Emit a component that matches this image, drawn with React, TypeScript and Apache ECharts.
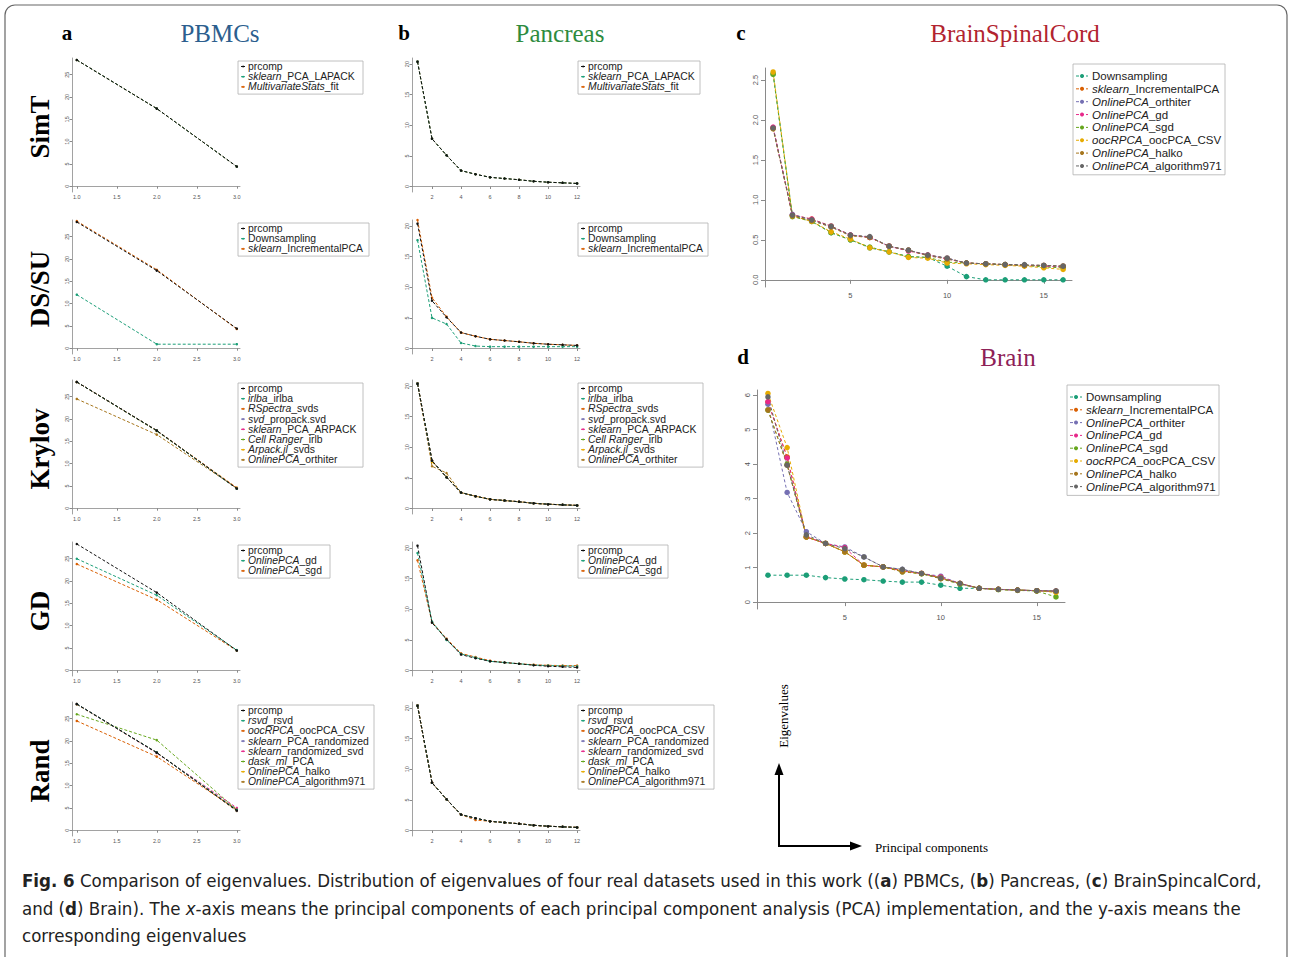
import React, { useEffect, useRef } from 'react';
import * as echarts from 'echarts';

// ---------------- DATA ----------------
const pbmcX = [1, 2, 3];
const pancX = [1, 2, 3, 4, 5, 6, 7, 8, 9, 10, 11, 12];
const brainX = [1, 2, 3, 4, 5, 6, 7, 8, 9, 10, 11, 12, 13, 14, 15, 16];

const pbmcXTicks = [1, 1.5, 2, 2.5, 3];
const pbmcYTicks = [0, 5, 10, 15, 20, 25];
const pancXTicks = [2, 4, 6, 8, 10, 12];
const pancYTicks = [0, 5, 10, 15, 20];
const cXTicks = [5, 10, 15];
const cYTicks = [0, 0.5, 1, 1.5, 2, 2.5];
const dXTicks = [5, 10, 15];
const dYTicks = [0, 1, 2, 3, 4, 5, 6];

const rowNames = ['SimT', 'DS/SU', 'Krylov', 'GD', 'Rand'];

const simtLabels = ['prcomp', '*sklearn*_PCA_LAPACK', '*MultivariateStats*_fit'];
const simtPBMC = [
  [28.3, 17.4, 4.4],
  [28.3, 17.4, 4.4],
  [28.3, 17.4, 4.4],
];
const simtPancreas = [
  [20.4, 7.8, 5.1, 2.6, 2.0, 1.5, 1.3, 1.1, 0.85, 0.7, 0.6, 0.5],
  [20.4, 7.8, 5.1, 2.6, 2.0, 1.5, 1.3, 1.1, 0.85, 0.7, 0.6, 0.5],
  [20.4, 7.8, 5.1, 2.6, 2.0, 1.5, 1.3, 1.1, 0.85, 0.7, 0.6, 0.5],
];

const dssuLabels = ['prcomp', 'Downsampling', '*sklearn*_IncrementalPCA'];
const dssuPBMC = [
  [28.3, 17.4, 4.4],
  [12.0, 0.9, 0.9],
  [28.5, 17.6, 4.3],
];
const dssuPancreas = [
  [20.4, 7.8, 5.1, 2.6, 2.0, 1.5, 1.3, 1.1, 0.85, 0.7, 0.6, 0.5],
  [17.7, 5.0, 4.0, 0.9, 0.4, 0.3, 0.3, 0.3, 0.3, 0.3, 0.3, 0.3],
  [21.0, 8.3, 5.2, 2.6, 2.0, 1.5, 1.3, 1.1, 0.85, 0.7, 0.6, 0.5],
];

const krylovLabels = [
  'prcomp', '*irlba*_irlba', '*RSpectra*_svds', '*svd*_propack.svd',
  '*sklearn*_PCA_ARPACK', '*Cell Ranger*_irlb', '*Arpack.jl*_svds', '*OnlinePCA*_orthiter',
];
const krylovPBMC = [
  [28.3, 17.4, 4.4],
  [28.3, 17.4, 4.4],
  [28.3, 17.4, 4.5],
  [28.3, 17.4, 4.4],
  [28.3, 17.4, 4.5],
  [28.3, 17.3, 4.4],
  [28.3, 17.4, 4.6],
  [24.5, 16.5, 4.5],
];
const krylovPancreas = [
  [20.4, 7.8, 5.1, 2.6, 2.0, 1.5, 1.3, 1.1, 0.85, 0.7, 0.6, 0.5],
  [20.4, 7.8, 5.1, 2.6, 2.0, 1.5, 1.3, 1.1, 0.85, 0.7, 0.6, 0.5],
  [20.4, 7.8, 5.1, 2.6, 2.0, 1.5, 1.3, 1.1, 0.85, 0.7, 0.6, 0.5],
  [20.4, 7.8, 5.1, 2.6, 2.0, 1.5, 1.3, 1.1, 0.85, 0.7, 0.6, 0.5],
  [20.4, 7.8, 5.1, 2.6, 2.0, 1.5, 1.3, 1.1, 0.85, 0.7, 0.6, 0.5],
  [20.4, 7.8, 5.1, 2.6, 2.0, 1.5, 1.3, 1.1, 0.85, 0.7, 0.6, 0.5],
  [20.4, 7.6, 5.2, 2.6, 2.0, 1.5, 1.3, 1.1, 0.85, 0.7, 0.6, 0.5],
  [20.4, 6.9, 5.8, 2.6, 2.0, 1.5, 1.3, 1.1, 0.85, 0.7, 0.6, 0.5],
];

const gdLabels = ['prcomp', '*OnlinePCA*_gd', '*OnlinePCA*_sgd'];
const gdPBMC = [
  [28.3, 17.4, 4.4],
  [25.0, 16.8, 4.5],
  [23.8, 15.8, 4.4],
];
const gdPancreas = [
  [20.4, 7.8, 5.1, 2.6, 2.0, 1.5, 1.3, 1.1, 0.85, 0.7, 0.6, 0.5],
  [19.2, 8.0, 5.0, 2.7, 2.1, 1.5, 1.3, 1.1, 0.9, 0.8, 0.75, 0.7],
  [18.0, 7.9, 5.2, 2.8, 2.2, 1.6, 1.3, 1.1, 0.95, 0.85, 0.8, 0.8],
];

const randLabels = [
  'prcomp', '*rsvd*_rsvd', '*oocRPCA*_oocPCA_CSV', '*sklearn*_PCA_randomized',
  '*sklearn*_randomized_svd', '*dask_ml*_PCA', '*OnlinePCA*_halko', '*OnlinePCA*_algorithm971',
];
const randPBMC = [
  [28.3, 17.4, 4.4],
  [28.3, 17.4, 4.6],
  [24.5, 16.5, 4.6],
  [28.3, 17.4, 4.4],
  [28.3, 17.3, 5.0],
  [26.0, 20.2, 4.6],
  [28.3, 17.4, 4.5],
  [28.2, 17.4, 4.3],
];
const randPancreas = [
  [20.4, 7.8, 5.1, 2.6, 2.0, 1.5, 1.3, 1.1, 0.85, 0.7, 0.6, 0.5],
  [20.4, 7.8, 5.1, 2.6, 2.0, 1.5, 1.3, 1.1, 0.85, 0.7, 0.6, 0.5],
  [20.4, 7.8, 5.1, 2.6, 1.7, 1.5, 1.3, 1.1, 0.85, 0.7, 0.6, 0.5],
  [20.4, 7.8, 5.1, 2.6, 2.0, 1.5, 1.3, 1.1, 0.85, 0.7, 0.6, 0.5],
  [20.4, 7.8, 5.1, 2.6, 2.0, 1.5, 1.3, 1.1, 0.85, 0.7, 0.6, 0.5],
  [20.4, 7.8, 5.1, 2.6, 2.0, 1.5, 1.3, 1.1, 0.85, 0.7, 0.6, 0.5],
  [20.4, 7.8, 5.1, 2.6, 2.0, 1.5, 1.3, 1.1, 0.85, 0.7, 0.6, 0.5],
  [20.4, 7.8, 5.1, 2.6, 2.0, 1.5, 1.3, 1.1, 0.85, 0.7, 0.6, 0.5],
];

const bigLabels = [
  'Downsampling', '*sklearn*_IncrementalPCA', '*OnlinePCA*_orthiter', '*OnlinePCA*_gd',
  '*OnlinePCA*_sgd', '*oocRPCA*_oocPCA_CSV', '*OnlinePCA*_halko', '*OnlinePCA*_algorithm971',
];
const brainSpinalCord = [
  [2.58, 0.80, 0.73, 0.59, 0.50, 0.40, 0.35, 0.29, 0.28, 0.17, 0.04, 0.00, 0.00, 0.00, 0.00, 0.00],
  [1.90, 0.81, 0.76, 0.67, 0.56, 0.53, 0.42, 0.37, 0.31, 0.27, 0.21, 0.20, 0.19, 0.18, 0.18, 0.17],
  [1.90, 0.82, 0.75, 0.66, 0.56, 0.53, 0.42, 0.37, 0.31, 0.27, 0.21, 0.20, 0.19, 0.18, 0.18, 0.17],
  [1.91, 0.81, 0.76, 0.67, 0.56, 0.53, 0.42, 0.36, 0.31, 0.26, 0.21, 0.20, 0.19, 0.18, 0.17, 0.16],
  [2.57, 0.79, 0.73, 0.59, 0.50, 0.41, 0.35, 0.29, 0.28, 0.22, 0.21, 0.20, 0.19, 0.18, 0.16, 0.15],
  [2.60, 0.80, 0.73, 0.60, 0.51, 0.40, 0.35, 0.28, 0.27, 0.21, 0.20, 0.19, 0.18, 0.17, 0.15, 0.13],
  [1.89, 0.80, 0.74, 0.66, 0.55, 0.53, 0.42, 0.37, 0.30, 0.26, 0.21, 0.20, 0.19, 0.18, 0.18, 0.17],
  [1.90, 0.81, 0.75, 0.67, 0.56, 0.54, 0.42, 0.37, 0.31, 0.27, 0.21, 0.20, 0.19, 0.19, 0.18, 0.17],
];
const brain = [
  [0.78, 0.78, 0.78, 0.71, 0.67, 0.65, 0.61, 0.58, 0.58, 0.49, 0.40, 0.40, 0.37, 0.35, 0.33, 0.32],
  [5.80, 4.21, 1.89, 1.70, 1.46, 1.07, 1.02, 0.92, 0.83, 0.70, 0.54, 0.40, 0.37, 0.35, 0.33, 0.30],
  [5.74, 3.18, 2.04, 1.70, 1.60, 1.31, 1.02, 0.95, 0.83, 0.75, 0.54, 0.40, 0.37, 0.35, 0.33, 0.32],
  [5.81, 4.18, 1.89, 1.70, 1.58, 1.07, 1.02, 0.90, 0.83, 0.73, 0.54, 0.40, 0.37, 0.35, 0.33, 0.32],
  [5.57, 4.00, 1.89, 1.70, 1.46, 1.07, 1.02, 0.88, 0.82, 0.68, 0.52, 0.40, 0.36, 0.34, 0.32, 0.15],
  [6.05, 4.48, 1.89, 1.70, 1.46, 1.07, 1.02, 0.90, 0.83, 0.70, 0.54, 0.40, 0.37, 0.35, 0.33, 0.28],
  [5.57, 3.97, 1.89, 1.70, 1.46, 1.07, 1.02, 0.88, 0.83, 0.68, 0.54, 0.40, 0.37, 0.35, 0.33, 0.32],
  [5.95, 3.97, 1.95, 1.70, 1.55, 1.31, 1.02, 0.95, 0.83, 0.70, 0.54, 0.40, 0.37, 0.35, 0.33, 0.32],
];

// ---------------- STYLE / LAYOUT ----------------
const DARK2 = ['#1B9E77', '#D95F02', '#7570B3', '#E7298A', '#66A61E', '#E6AB02', '#A6761D', '#666666'];
const SERIF = '"Liberation Serif", "Times New Roman", serif';
const SANS = '"Liberation Sans", Arial, sans-serif';
const CAPTION_FONT = '"Liberation Sans Narrow", "DejaVu Sans Condensed", "Liberation Sans", sans-serif';

const rowBottoms = [192, 354, 514, 676, 836];
const rowH = 134;
const legendWidthsA = [125, 131, 125, 92, 136];
const legendWidthsB = [122, 130, 125, 90, 136];

const rowsData = [
  { labels: simtLabels, a: simtPBMC, b: simtPancreas },
  { labels: dssuLabels, a: dssuPBMC, b: dssuPancreas },
  { labels: krylovLabels, a: krylovPBMC, b: krylovPancreas },
  { labels: gdLabels, a: gdPBMC, b: gdPancreas },
  { labels: randLabels, a: randPBMC, b: randPancreas },
];

function richText(label: string) {
  return label
    .split('*')
    .map((p, k) => (p ? `{${k % 2 ? 'i' : 'n'}|${p}}` : ''))
    .join('');
}
function richStyles(fontSize: number, fill: string, family = SANS) {
  return {
    n: { fontSize, fontFamily: family, fill, color: fill },
    i: { fontSize, fontFamily: family, fill, color: fill, fontStyle: 'italic' },
    b: { fontSize, fontFamily: family, fill, color: fill, fontWeight: 'bold' },
  };
}

function txt(x: number, y: number, text: string, o: any = {}) {
  return {
    type: 'text',
    x,
    y,
    rotation: o.rotation || 0,
    z: 100,
    silent: true,
    style: {
      text,
      fontSize: o.fontSize || 12,
      fontFamily: o.fontFamily || SERIF,
      fontWeight: o.fontWeight || 'normal',
      fill: o.fill || '#000',
      align: o.align || 'left',
      textAlign: o.align || 'left',
      verticalAlign: o.verticalAlign || 'middle',
      textVerticalAlign: o.verticalAlign || 'middle',
      rich: o.rich,
    },
  };
}

function mkAxes(idx: number, xr: any, yr: any, small: boolean) {
  const fs = small ? 5.5 : 7.5;
  const axisLine = { show: true, lineStyle: { color: '#8a8a8a', width: small ? 0.8 : 1 } };
  const xAxis = {
    type: 'value',
    gridIndex: idx,
    min: xr.min,
    max: xr.max,
    splitLine: { show: false },
    axisLine,
    axisTick: { show: true, customValues: xr.ticks, length: small ? 2.5 : 4, lineStyle: { color: '#8a8a8a' } },
    axisLabel: {
      show: true,
      customValues: xr.ticks,
      fontSize: fs,
      color: '#555',
      fontFamily: SANS,
      margin: small ? 2 : 4,
      formatter: xr.fmt,
    },
  };
  const yAxis = {
    type: 'value',
    gridIndex: idx,
    min: yr.min,
    max: yr.max,
    splitLine: { show: false },
    axisLine,
    axisTick: { show: true, customValues: yr.ticks, length: small ? 2.5 : 4, lineStyle: { color: '#8a8a8a' } },
    axisLabel: {
      show: true,
      customValues: yr.ticks,
      fontSize: fs,
      rotate: 90,
      color: '#555',
      fontFamily: SANS,
      margin: small ? 2 : 6,
      formatter: yr.fmt,
    },
  };
  return { xAxis, yAxis };
}

function lineSeries(idx: number, xs: number[], ys: number[], color: string, size: number, width: number, dash: number[], z: number) {
  return {
    type: 'line',
    xAxisIndex: idx,
    yAxisIndex: idx,
    data: xs.map((x, i) => [x, ys[i]]),
    symbol: 'circle',
    symbolSize: size,
    showSymbol: true,
    showAllSymbol: true,
    lineStyle: { color, width, type: dash },
    itemStyle: { color },
    z,
    silent: true,
    clip: false,
  };
}

function legendBox(left: number, top: number, width: number, labels: string[], colors: string[], o: any) {
  const els: any[] = [];
  const h = labels.length * o.spacing + o.pad;
  els.push({
    type: 'rect',
    z: 90,
    silent: true,
    shape: { x: left, y: top, width, height: h },
    style: { fill: '#fff', stroke: '#b0b0b0', lineWidth: 0.8 },
  });
  labels.forEach((lab, i) => {
    const y = top + o.first + i * o.spacing;
    els.push({
      type: 'line',
      z: 100,
      silent: true,
      shape: { x1: left + o.m1, y1: y, x2: left + o.m2, y2: y },
      style: { stroke: colors[i], lineWidth: 1, lineDash: o.dash },
    });
    els.push({
      type: 'circle',
      z: 101,
      silent: true,
      shape: { cx: left + (o.m1 + o.m2) / 2, cy: y, r: o.r },
      style: { fill: colors[i] },
    });
    els.push(
      txt(left + o.tx, y, richText(lab), {
        fontSize: o.fs,
        fontFamily: SANS,
        fill: '#222',
        rich: richStyles(o.fs, '#222'),
      })
    );
  });
  return els;
}

function buildOption() {
  const grids: any[] = [];
  const xAxes: any[] = [];
  const yAxes: any[] = [];
  const series: any[] = [];
  const graphics: any[] = [];

  const fmt1 = (v: number) => v.toFixed(1);
  const fmt0 = (v: number) => String(Math.round(v));

  rowsData.forEach((row, r) => {
    const bottom = rowBottoms[r];
    const top = bottom - rowH;
    const colors = row.labels.map((_, k) => (k === 0 ? '#111' : DARK2[(k - 1) % 8]));

    // panel a
    const ia = grids.length;
    grids.push({ left: 72, top, width: 168, height: rowH, outerBoundsMode: 'none' });
    const axA = mkAxes(ia, { min: 0.94, max: 3.04, ticks: pbmcXTicks, fmt: fmt1 }, { min: -1.3, max: 28.75, ticks: pbmcYTicks, fmt: fmt0 }, true);
    xAxes.push(axA.xAxis);
    yAxes.push(axA.yAxis);
    // panel b
    const ib = grids.length;
    grids.push({ left: 412, top, width: 168, height: rowH, outerBoundsMode: 'none' });
    const axB = mkAxes(ib, { min: 0.62, max: 12.2, ticks: pancXTicks, fmt: fmt0 }, { min: -0.9, max: 21.0, ticks: pancYTicks, fmt: fmt0 }, true);
    xAxes.push(axB.xAxis);
    yAxes.push(axB.yAxis);

    for (let k = row.labels.length - 1; k >= 0; k--) {
      const z = k === 0 ? 5 : 3;
      series.push(lineSeries(ia, pbmcX, row.a[k], colors[k], 2.5, 1, [3, 2], z));
      series.push(lineSeries(ib, pancX, row.b[k], colors[k], 2.5, 1, [3, 2], z));
    }

    const legOpts = { spacing: 10.2, pad: 2.5, first: 5.5, m1: 3, m2: 7, r: 0.9, tx: 10, fs: 10.4, dash: null };
    graphics.push(...legendBox(238, bottom - 131, legendWidthsA[r], row.labels, colors, legOpts));
    graphics.push(...legendBox(578, bottom - 131, legendWidthsB[r], row.labels, colors, legOpts));

    graphics.push(
      txt(40, bottom - 65, rowNames[r], { fontSize: 27, fontWeight: 'bold', rotation: Math.PI / 2, align: 'center' })
    );
  });

  // panel c
  const ic = grids.length;
  grids.push({ left: 765, top: 68, width: 307, height: 219, outerBoundsMode: 'none' });
  const axC = mkAxes(ic, { min: 0.58, max: 16.46, ticks: cXTicks, fmt: fmt0 }, { min: -0.09, max: 2.65, ticks: cYTicks, fmt: fmt1 }, false);
  xAxes.push(axC.xAxis);
  yAxes.push(axC.yAxis);
  // panel d
  const id = grids.length;
  grids.push({ left: 757, top: 390, width: 308, height: 219, outerBoundsMode: 'none' });
  const axD = mkAxes(id, { min: 0.43, max: 16.47, ticks: dXTicks, fmt: fmt0 }, { min: -0.2, max: 6.15, ticks: dYTicks, fmt: fmt0 }, false);
  xAxes.push(axD.xAxis);
  yAxes.push(axD.yAxis);

  bigLabels.forEach((_, k) => {
    series.push(lineSeries(ic, brainX, brainSpinalCord[k], DARK2[k], 5.5, 1, [3, 2.5], 3));
    series.push(lineSeries(id, brainX, brain[k], DARK2[k], 5.5, 1, [3, 2.5], 3));
  });

  const bigLeg = { spacing: 12.85, pad: 8, first: 12, m1: 3, m2: 15, r: 2, tx: 19, fs: 11.5, dash: [3, 2] };
  graphics.push(...legendBox(1073, 64, 152, bigLabels, DARK2, bigLeg));
  graphics.push(...legendBox(1067, 385, 152, bigLabels, DARK2, { ...bigLeg, spacing: 12.8 }));

  // frame
  graphics.push({
    type: 'rect',
    z: 1,
    silent: true,
    shape: { x: 5, y: 5, width: 1282, height: 1000, r: 10 },
    style: { fill: 'none', stroke: '#666', lineWidth: 1.2 },
  });

  // panel letters and titles
  graphics.push(txt(67, 33, 'a', { fontSize: 21, fontWeight: 'bold', align: 'center' }));
  graphics.push(txt(220, 33, 'PBMCs', { fontSize: 25, fill: '#2C5E8E', align: 'center' }));
  graphics.push(txt(404, 33, 'b', { fontSize: 21, fontWeight: 'bold', align: 'center' }));
  graphics.push(txt(560, 33, 'Pancreas', { fontSize: 25, fill: '#2E8B3E', align: 'center' }));
  graphics.push(txt(741, 33, 'c', { fontSize: 21, fontWeight: 'bold', align: 'center' }));
  graphics.push(txt(1015, 33, 'BrainSpinalCord', { fontSize: 25, fill: '#B22430', align: 'center' }));
  graphics.push(txt(743, 357, 'd', { fontSize: 21, fontWeight: 'bold', align: 'center' }));
  graphics.push(txt(1008, 357, 'Brain', { fontSize: 25, fill: '#8E2157', align: 'center' }));

  // axis schematic
  graphics.push({ type: 'line', z: 100, silent: true, shape: { x1: 779, y1: 847, x2: 779, y2: 772 }, style: { stroke: '#000', lineWidth: 2 } });
  graphics.push({ type: 'polygon', z: 100, silent: true, shape: { points: [[779, 763], [774.5, 775], [783.5, 775]] }, style: { fill: '#000' } });
  graphics.push({ type: 'line', z: 100, silent: true, shape: { x1: 778, y1: 846, x2: 853, y2: 846 }, style: { stroke: '#000', lineWidth: 2 } });
  graphics.push({ type: 'polygon', z: 100, silent: true, shape: { points: [[862, 846], [850, 841.5], [850, 850.5]] }, style: { fill: '#000' } });
  graphics.push(txt(783, 716, 'Eigenvalues', { fontSize: 13, rotation: Math.PI / 2, align: 'center' }));
  graphics.push(txt(875, 847, 'Principal components', { fontSize: 13 }));

  // caption
  const cfs = 18.5;
  const cr = richStyles(cfs, '#222', CAPTION_FONT);
  graphics.push(
    txt(
      22,
      880,
      '{b|Fig. 6}{n| Comparison of eigenvalues. Distribution of eigenvalues of four real datasets used in this work ((}{b|a}{n|) PBMCs, (}{b|b}{n|) Pancreas, (}{b|c}{n|) BrainSpincalCord,}',
      { fontSize: cfs, fontFamily: CAPTION_FONT, fill: '#222', rich: cr }
    )
  );
  graphics.push(
    txt(
      22,
      908,
      '{n|and (}{b|d}{n|) Brain). The }{i|x}{n|-axis means the principal components of each principal component analysis (PCA) implementation, and the y-axis means the}',
      { fontSize: cfs, fontFamily: CAPTION_FONT, fill: '#222', rich: cr }
    )
  );
  graphics.push(txt(22, 935, '{n|corresponding eigenvalues}', { fontSize: cfs, fontFamily: CAPTION_FONT, fill: '#222', rich: cr }));

  return {
    animation: false,
    backgroundColor: '#fff',
    grid: grids,
    xAxis: xAxes,
    yAxis: yAxes,
    series,
    graphic: { elements: graphics },
  };
}

export default function App() {
  const ref = useRef<HTMLDivElement>(null);
  useEffect(() => {
    if (!ref.current) return;
    const chart = echarts.init(ref.current, null, { renderer: 'svg' });
    chart.setOption(buildOption() as any);
    return () => chart.dispose();
  }, []);
  return (
    <div
      ref={ref}
      style={{ position: 'absolute', left: 0, top: 0, width: 1290, height: 957, background: '#fff' }}
    />
  );
}
